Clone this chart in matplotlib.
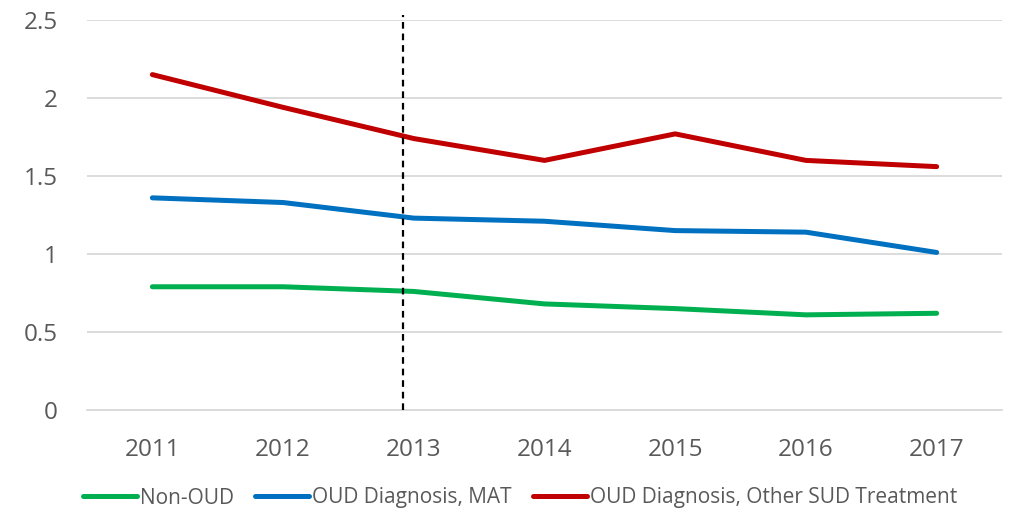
import matplotlib
matplotlib.use("Agg")
import matplotlib.pyplot as plt
import numpy as np

years = ["2011", "2012", "2013", "2014", "2015", "2016", "2017"]
non_oud = [0.79, 0.79, 0.76, 0.68, 0.65, 0.61, 0.62]
oud_mat = [1.36, 1.33, 1.23, 1.21, 1.15, 1.14, 1.01]
oud_other = [2.15, 1.94, 1.74, 1.60, 1.77, 1.60, 1.56]
series_names = ["Non-OUD", "OUD Diagnosis, MAT", "OUD Diagnosis, Other SUD Treatment"]
marker_year = "2013"

plt.rcParams["font.family"] = ["Open Sans", "DejaVu Sans"]
grey = "#595959"

fig = plt.figure(figsize=(10.1, 5.15), dpi=100)
ax = fig.add_axes([87 / 1010, 1 - 410 / 515, 915 / 1010, 390 / 515])

x = np.arange(len(years))
for vals, color, name in zip([non_oud, oud_mat, oud_other],
                             ["#00B050", "#0070C0", "#C00000"], series_names):
    ax.plot(x, vals, color=color, linewidth=3.6, label=name,
            solid_capstyle="round", solid_joinstyle="round")

# dashed marker sits a little left of the 2013 category centre
xi = years.index(marker_year) - 0.085
ax.plot([xi, xi], [0, 2.535], color="black", linestyle=(0, (3, 2.2)),
        linewidth=1.6, clip_on=False, zorder=3)

ax.set_xlim(-0.5, len(years) - 0.5)
ax.set_ylim(0, 2.5)
ax.set_yticks([0, 0.5, 1, 1.5, 2, 2.5])
ax.set_yticklabels(["0", "0.5", "1", "1.5", "2", "2.5"])
ax.set_xticks(x)
ax.set_xticklabels(years)
ax.grid(axis="y", color="#D9D9D9", linewidth=1.3)
ax.set_axisbelow(True)
for s in ["top", "right", "left"]:
    ax.spines[s].set_visible(False)
ax.spines["bottom"].set_color("#D9D9D9")
ax.spines["bottom"].set_linewidth(1.3)
ax.tick_params(axis="both", length=0, labelsize=17.5, colors=grey)
ax.tick_params(axis="x", pad=20)
ax.tick_params(axis="y", pad=21)

leg = fig.legend(loc="center", bbox_to_anchor=(0.515, 1 - 498 / 515), ncol=3,
                 frameon=False, fontsize=15, handlelength=2.6, handletextpad=0.15,
                 columnspacing=1.0)
for t in leg.get_texts():
    t.set_color(grey)

fig.savefig("out.png", dpi=100)
